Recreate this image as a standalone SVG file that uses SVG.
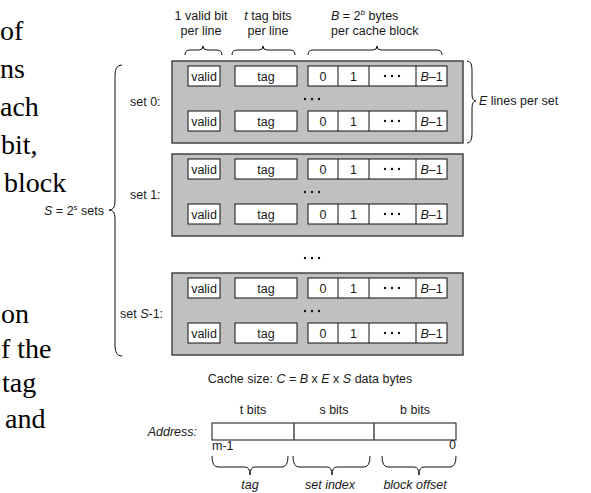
<svg xmlns="http://www.w3.org/2000/svg" width="591" height="493" viewBox="0 0 591 493">
<style>
.t{font-family:"Liberation Sans",Arial,sans-serif;font-size:12.5px;fill:#1a1a1a}
.c{text-anchor:middle}
.it{font-style:italic}
.cell{fill:#fff;stroke:#111;stroke-width:1}
.set{fill:#c0c0c0;stroke:#444;stroke-width:1.5}
.br{fill:none;stroke:#111;stroke-width:1}
.sf{font-family:"Liberation Serif","Times New Roman",serif;font-size:28px;fill:#000}
.dot{fill:#111}
</style>
<defs>
<g id="dots3"><circle cx="-7" cy="0" r="1.2"/><circle cx="0" cy="0" r="1.2"/><circle cx="7" cy="0" r="1.2"/></g>
</defs>
<rect x="0" y="0" width="591" height="493" fill="#fff"/>

<g id="slide-text">
<text class="sf" x="0" y="40">of</text>
<text class="sf" x="0" y="78">ns</text>
<text class="sf" x="0" y="116">ach</text>
<text class="sf" x="1" y="154">bit,</text>
<text class="sf" x="4" y="192">block</text>
<text class="sf" x="1" y="323">on</text>
<text class="sf" x="1" y="358">f the</text>
<text class="sf" x="2" y="392">tag</text>
<text class="sf" x="5" y="428">and</text>
</g>

<g id="column-labels">
<text class="t c" x="201" y="20">1 valid bit</text>
<text class="t c" x="201" y="35">per line</text>
<text class="t c" x="268" y="20"><tspan class="it">t</tspan> tag bits</text>
<text class="t c" x="268" y="35">per line</text>
<text class="t" x="331" y="20"><tspan class="it">B</tspan> = 2<tspan class="it" font-size="8" dy="-5">b</tspan><tspan dy="5"> bytes</tspan></text>
<text class="t" x="331" y="35">per cache block</text>
</g>

<g id="set0">
<rect class="set" x="172" y="61" width="291" height="82"/>
<text class="t" x="130" y="106">set 0:</text>
<rect class="cell" x="188" y="66" width="32" height="20"/><text class="t c" x="204" y="80.5">valid</text>
<rect class="cell" x="235" y="66" width="62" height="20"/><text class="t c" x="266" y="80.5">tag</text>
<rect class="cell" x="308" y="66" width="139" height="20"/>
<path class="br" d="M338,66V86M369,66V86M416,66V86"/>
<text class="t c" x="323" y="80.5">0</text><text class="t c" x="353.5" y="80.5">1</text>
<use href="#dots3" class="dot" x="392" y="76"/>
<text class="t c" x="431.5" y="80.5"><tspan class="it">B</tspan>–1</text>
<use href="#dots3" class="dot" x="312" y="99"/>
<rect class="cell" x="188" y="111" width="32" height="20"/><text class="t c" x="204" y="125.5">valid</text>
<rect class="cell" x="235" y="111" width="62" height="20"/><text class="t c" x="266" y="125.5">tag</text>
<rect class="cell" x="308" y="111" width="139" height="20"/>
<path class="br" d="M338,111V131M369,111V131M416,111V131"/>
<text class="t c" x="323" y="125.5">0</text><text class="t c" x="353.5" y="125.5">1</text>
<use href="#dots3" class="dot" x="392" y="121"/>
<text class="t c" x="431.5" y="125.5"><tspan class="it">B</tspan>–1</text>
</g>

<g id="set1">
<rect class="set" x="172" y="154" width="291" height="82"/>
<text class="t" x="130" y="199">set 1:</text>
<rect class="cell" x="188" y="159" width="32" height="20"/><text class="t c" x="204" y="173.5">valid</text>
<rect class="cell" x="235" y="159" width="62" height="20"/><text class="t c" x="266" y="173.5">tag</text>
<rect class="cell" x="308" y="159" width="139" height="20"/>
<path class="br" d="M338,159V179M369,159V179M416,159V179"/>
<text class="t c" x="323" y="173.5">0</text><text class="t c" x="353.5" y="173.5">1</text>
<use href="#dots3" class="dot" x="392" y="169"/>
<text class="t c" x="431.5" y="173.5"><tspan class="it">B</tspan>–1</text>
<use href="#dots3" class="dot" x="312" y="192"/>
<rect class="cell" x="188" y="204" width="32" height="20"/><text class="t c" x="204" y="218.5">valid</text>
<rect class="cell" x="235" y="204" width="62" height="20"/><text class="t c" x="266" y="218.5">tag</text>
<rect class="cell" x="308" y="204" width="139" height="20"/>
<path class="br" d="M338,204V224M369,204V224M416,204V224"/>
<text class="t c" x="323" y="218.5">0</text><text class="t c" x="353.5" y="218.5">1</text>
<use href="#dots3" class="dot" x="392" y="214"/>
<text class="t c" x="431.5" y="218.5"><tspan class="it">B</tspan>–1</text>
</g>

<use href="#dots3" class="dot" x="312" y="258"/>

<g id="setS1">
<rect class="set" x="172" y="273" width="291" height="82"/>
<text class="t" x="120" y="318">set <tspan class="it">S</tspan>-1:</text>
<rect class="cell" x="188" y="278" width="32" height="20"/><text class="t c" x="204" y="292.5">valid</text>
<rect class="cell" x="235" y="278" width="62" height="20"/><text class="t c" x="266" y="292.5">tag</text>
<rect class="cell" x="308" y="278" width="139" height="20"/>
<path class="br" d="M338,278V298M369,278V298M416,278V298"/>
<text class="t c" x="323" y="292.5">0</text><text class="t c" x="353.5" y="292.5">1</text>
<use href="#dots3" class="dot" x="392" y="288"/>
<text class="t c" x="431.5" y="292.5"><tspan class="it">B</tspan>–1</text>
<use href="#dots3" class="dot" x="312" y="311"/>
<rect class="cell" x="188" y="323" width="32" height="20"/><text class="t c" x="204" y="337.5">valid</text>
<rect class="cell" x="235" y="323" width="62" height="20"/><text class="t c" x="266" y="337.5">tag</text>
<rect class="cell" x="308" y="323" width="139" height="20"/>
<path class="br" d="M338,323V343M369,323V343M416,323V343"/>
<text class="t c" x="323" y="337.5">0</text><text class="t c" x="353.5" y="337.5">1</text>
<use href="#dots3" class="dot" x="392" y="333"/>
<text class="t c" x="431.5" y="337.5"><tspan class="it">B</tspan>–1</text>
</g>

<g id="braces">
<path class="br" d="M185,55Q185,50 190,50L199,50Q203,50 203,46Q203,50 207,50L217,50Q222,50 222,55"/>
<path class="br" d="M232,55Q232,50 237,50L259,50Q263,50 263,46Q263,50 267,50L290,50Q295,50 295,55"/>
<path class="br" d="M308,55Q308,50 313,50L373,50Q377,50 377,46Q377,50 381,50L437,50Q442,50 442,55"/>
<path class="br" d="M467,61Q472,61 472,70L472,94Q472,101 476,101Q472,101 472,108L472,134Q472,143 467,143"/>
<path class="br" d="M122,65Q115,65 115,75L115,202Q115,210 109,210Q115,210 115,218L115,346Q115,356 122,356"/>
<path class="br" d="M212,456Q212,467 218,467L245,467Q250,467 250,475Q250,467 255,467L282,467Q288,467 288,456"/>
<path class="br" d="M293,456Q293,467 299,467L327,467Q332,467 332,475Q332,467 337,467L364,467Q370,467 370,456"/>
<path class="br" d="M382,456Q382,467 388,467L414,467Q419,467 419,475Q419,467 424,467L450,467Q456,467 456,456"/>
</g>

<g id="side-labels">
<text class="t" x="479" y="105" font-size="13.5"><tspan class="it">E</tspan>  lines per set</text>
<text class="t" x="104" y="215" text-anchor="end"><tspan class="it">S</tspan> = 2<tspan font-size="8" dy="-5">s</tspan><tspan dy="5"> sets</tspan></text>
</g>

<g id="cache-size">
<text class="t c" x="310" y="383">Cache size:  <tspan class="it">C</tspan> = <tspan class="it">B</tspan> x <tspan class="it">E</tspan> x <tspan class="it">S</tspan> data bytes</text>
</g>

<g id="address">
<text class="t c" x="253" y="414">t bits</text>
<text class="t c" x="334" y="414">s bits</text>
<text class="t c" x="415" y="414">b bits</text>
<text class="t it" x="197" y="436" text-anchor="end" font-size="13">Address:</text>
<rect class="cell" x="212" y="423" width="244" height="17"/>
<path d="M294,423V440M374,423V440" stroke="#444" stroke-width="1.5"/>
<text class="t" x="212" y="450" font-size="7">m-1</text>
<text class="t" x="456" y="449" font-size="8" text-anchor="end">0</text>
<text class="t c it" x="250" y="489" font-size="13">tag</text>
<text class="t c it" x="330" y="489" font-size="13">set index</text>
<text class="t c it" x="415" y="489" font-size="13">block offset</text>
</g>
</svg>
